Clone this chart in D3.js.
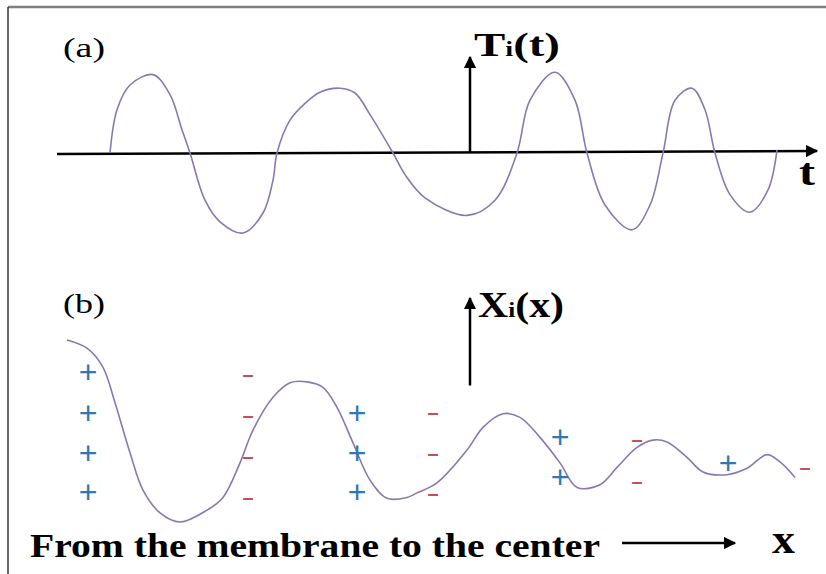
<!DOCTYPE html>
<html>
<head>
<meta charset="utf-8">
<script src="https://cdn.jsdelivr.net/npm/d3@7"></script>
<style>
  body { margin: 0; background: #fff; }
  svg { display: block; }
</style>
</head>
<body>
<div id="chart"></div>
<script>
// Panel (a): temporal part T_i(t), [t, amplitude]
const timeSeries = [
  [5.3, 0], [6.0, 0.54], [7.3, 0.85], [9.6, 0.98], [11.3, 0.73], [12.5, 0.29],
  [13.3, 0], [14.8, -0.59], [16.3, -0.86], [18.6, -1.0], [20.6, -0.75], [21.6, -0.34],
  [22.0, 0], [23.3, 0.41], [24.8, 0.62], [26.3, 0.76], [28.3, 0.81], [29.8, 0.75],
  [31.3, 0.48], [33.6, 0], [34.8, -0.27], [36.8, -0.56], [41.0, -0.78], [43.8, -0.59],
  [46.0, 0], [47.3, 0.66], [49.8, 1.01], [51.8, 0.66], [53.0, 0], [54.8, -0.65],
  [57.5, -0.96], [59.3, -0.65], [60.6, 0], [61.8, 0.66], [63.5, 0.81], [64.8, 0.54],
  [65.8, 0], [67.3, -0.52], [69.3, -0.74], [71.1, -0.46], [72.0, 0.04]
];

// Panel (b): spatial part X_i(x), [depth, amplitude]
const spaceSeries = [
  [0.2, 1.0], [2.2, 0.91], [3.8, 0.70], [5.0, 0.31], [6.5, -0.24], [7.8, -0.65],
  [9.5, -0.90], [11.5, -1.0], [14.2, -0.87], [15.8, -0.73], [17.5, -0.35], [18.8, 0.01],
  [20.8, 0.37], [22.5, 0.53], [24.2, 0.54], [25.8, 0.48], [27.2, 0.26], [28.8, -0.13],
  [30.5, -0.54], [32.2, -0.74], [34.2, -0.73], [35.2, -0.68], [37.2, -0.57], [40.2, -0.21],
  [41.8, 0.04], [43.8, 0.19], [45.5, 0.15], [47.5, -0.07], [49.5, -0.35], [51.2, -0.62],
  [53.5, -0.59], [55.2, -0.40], [57.2, -0.18], [58.8, -0.10], [60.2, -0.12], [62.2, -0.29],
  [63.8, -0.45], [66.2, -0.48], [68.2, -0.41], [70.2, -0.26], [71.5, -0.34], [73.0, -0.51]
];

// charge signs along the profile
const plusMarks = [
  [2.3, 0.65], [2.3, 0.20], [2.3, -0.24], [2.3, -0.67],
  [29.2, 0.20], [29.2, -0.24], [29.2, -0.67],
  [49.5, -0.07], [49.5, -0.51],
  [66.3, -0.35]
];
const minusMarks = [
  [18.3, 0.63], [18.3, 0.18], [18.3, -0.27], [18.3, -0.73],
  [36.8, 0.21], [36.8, -0.24], [36.8, -0.68],
  [57.2, -0.09], [57.2, -0.55],
  [74.0, -0.40]
];

const W = 826, H = 574;
const curveColor = "#8a78b2";
const serif = "'Liberation Serif', 'Times New Roman', serif";
const sans = "'Liberation Sans', Arial, sans-serif";

const svg = d3.select("#chart").append("svg")
  .attr("width", W)
  .attr("height", H);

// arrowhead
svg.append("defs").append("marker")
  .attr("id", "arrow")
  .attr("viewBox", "0 0 10 10")
  .attr("refX", 9).attr("refY", 5)
  .attr("markerWidth", 5).attr("markerHeight", 5)
  .attr("orient", "auto")
  .append("path")
  .attr("d", "M0,0 L10,5 L0,10 Z")
  .attr("fill", "#000");

// frame
svg.append("line").attr("x1", 8).attr("x2", W).attr("y1", 7).attr("y2", 7)
  .attr("stroke", "#7f7f7f").attr("stroke-width", 2.5);
svg.append("line").attr("x1", 8).attr("x2", 8).attr("y1", 7).attr("y2", H)
  .attr("stroke", "#333").attr("stroke-width", 1.5);

// ---------- panel (a) ----------
const xT = d3.scaleLinear().domain([0, 75.3]).range([57, 810]);
const yT = d3.scaleLinear().domain([-1, 1]).range([233, 73]);

svg.append("line")
  .attr("x1", xT(0)).attr("y1", yT(0) + 1)
  .attr("x2", xT(76)).attr("y2", yT(0) - 2)
  .attr("stroke", "#000").attr("stroke-width", 2.5)
  .attr("marker-end", "url(#arrow)");

svg.append("line")
  .attr("x1", xT(41.3)).attr("y1", yT(0))
  .attr("x2", xT(41.3)).attr("y2", yT(1.2))
  .attr("stroke", "#000").attr("stroke-width", 2.5)
  .attr("marker-end", "url(#arrow)");

svg.append("path")
  .datum(timeSeries)
  .attr("d", d3.line().x(d => xT(d[0])).y(d => yT(d[1])).curve(d3.curveCatmullRom))
  .attr("fill", "none")
  .attr("stroke", curveColor)
  .attr("stroke-width", 1.6);

svg.append("text").attr("x", 63).attr("y", 57)
  .attr("textLength", 42).attr("lengthAdjust", "spacingAndGlyphs")
  .style("font-family", serif).style("font-size", "28px")
  .text("(a)");

const tLabel = svg.append("text").attr("x", 474).attr("y", 56)
  .attr("textLength", 86).attr("lengthAdjust", "spacingAndGlyphs")
  .style("font-family", serif).style("font-size", "33px").style("font-weight", "bold");
tLabel.append("tspan").text("T");
tLabel.append("tspan").attr("font-size", "20px").text("i");
tLabel.append("tspan").text("(t)");

svg.append("text").attr("x", 799).attr("y", 185)
  .attr("textLength", 16).attr("lengthAdjust", "spacingAndGlyphs")
  .style("font-family", serif).style("font-size", "38px").style("font-weight", "bold")
  .text("t");

// ---------- panel (b) ----------
const xS = d3.scaleLinear().domain([0, 73]).range([65, 795]);
const yS = d3.scaleLinear().domain([-1, 1]).range([522, 340]);

svg.append("line")
  .attr("x1", xS(40.5)).attr("y1", yS(0.5))
  .attr("x2", xS(40.5)).attr("y2", yS(1.46))
  .attr("stroke", "#000").attr("stroke-width", 2.5)
  .attr("marker-end", "url(#arrow)");

svg.append("path")
  .datum(spaceSeries)
  .attr("d", d3.line().x(d => xS(d[0])).y(d => yS(d[1])).curve(d3.curveCatmullRom))
  .attr("fill", "none")
  .attr("stroke", curveColor)
  .attr("stroke-width", 1.6);

svg.selectAll("text.plus")
  .data(plusMarks)
  .join("text")
  .attr("class", "plus")
  .attr("x", d => xS(d[0]))
  .attr("y", d => yS(d[1]))
  .attr("text-anchor", "middle")
  .attr("dominant-baseline", "central")
  .style("font-family", sans)
  .style("font-size", "32px")
  .attr("fill", "#2f78b4")
  .text("+");

svg.selectAll("text.minus")
  .data(minusMarks)
  .join("text")
  .attr("class", "minus")
  .attr("x", d => xS(d[0]))
  .attr("y", d => yS(d[1]))
  .attr("text-anchor", "middle")
  .attr("dominant-baseline", "central")
  .style("font-family", sans)
  .style("font-size", "20px")
  .style("font-weight", "bold")
  .attr("fill", "#c0505a")
  .text("–");

svg.append("text").attr("x", 63).attr("y", 313)
  .attr("textLength", 42).attr("lengthAdjust", "spacingAndGlyphs")
  .style("font-family", serif).style("font-size", "28px")
  .text("(b)");

const xLabel = svg.append("text").attr("x", 478).attr("y", 317)
  .attr("textLength", 86).attr("lengthAdjust", "spacingAndGlyphs")
  .style("font-family", serif).style("font-size", "35px").style("font-weight", "bold");
xLabel.append("tspan").text("X");
xLabel.append("tspan").attr("font-size", "21px").text("i");
xLabel.append("tspan").text("(x)");

svg.append("text").attr("x", 30).attr("y", 557)
  .attr("textLength", 570).attr("lengthAdjust", "spacingAndGlyphs")
  .style("font-family", serif).style("font-size", "33px").style("font-weight", "bold")
  .text("From the membrane to the center");

svg.append("line")
  .attr("x1", 622).attr("y1", 543).attr("x2", 735).attr("y2", 543)
  .attr("stroke", "#000").attr("stroke-width", 2.5)
  .attr("marker-end", "url(#arrow)");

svg.append("text").attr("x", 772).attr("y", 553)
  .attr("textLength", 23).attr("lengthAdjust", "spacingAndGlyphs")
  .style("font-family", serif).style("font-size", "42px").style("font-weight", "bold")
  .text("x");
</script>
</body>
</html>
